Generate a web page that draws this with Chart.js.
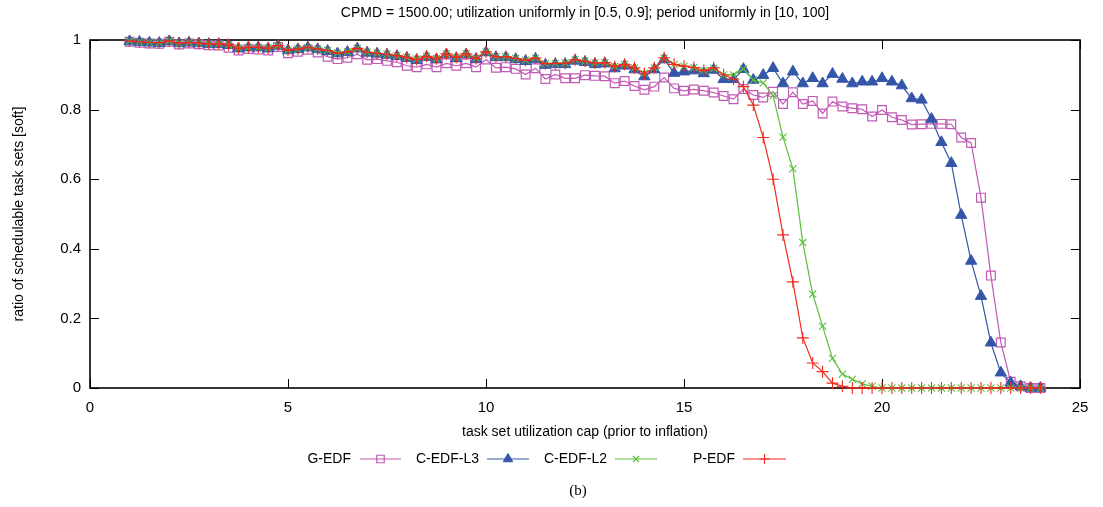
<!DOCTYPE html>
<html>
<head>
<meta charset="utf-8">
<title>CPMD = 1500.00</title>
<script src="https://cdn.jsdelivr.net/npm/chart.js@4.4.1/dist/chart.umd.min.js"></script>
<style>
	html, body { margin: 0; padding: 0; background: #fff; }
	#wrap { width: 1103px; height: 507px; position: relative; }
</style>
</head>
<body>
<div id="wrap"><canvas id="schedChart" width="1103" height="507"></canvas></div>
<script>
var titleText = 'CPMD = 1500.00; utilization uniformly in [0.5, 0.9]; period uniformly in [10, 100]';
var xTitle = 'task set utilization cap (prior to inflation)';
var yTitle = 'ratio of schedulable task sets [soft]';
var xTicks = [0, 5, 10, 15, 20, 25];
var yTicks = [0, 0.2, 0.4, 0.6, 0.8, 1];

// utilization caps 1 .. 24, step 0.25
var caps = [1, 1.25, 1.5, 1.75, 2, 2.25, 2.5, 2.75, 3, 3.25, 3.5, 3.75, 4, 4.25, 4.5, 4.75,
	5, 5.25, 5.5, 5.75, 6, 6.25, 6.5, 6.75, 7, 7.25, 7.5, 7.75, 8, 8.25, 8.5, 8.75,
	9, 9.25, 9.5, 9.75, 10, 10.25, 10.5, 10.75, 11, 11.25, 11.5, 11.75, 12, 12.25, 12.5, 12.75,
	13, 13.25, 13.5, 13.75, 14, 14.25, 14.5, 14.75, 15, 15.25, 15.5, 15.75, 16, 16.25, 16.5, 16.75,
	17, 17.25, 17.5, 17.75, 18, 18.25, 18.5, 18.75, 19, 19.25, 19.5, 19.75, 20, 20.25, 20.5, 20.75,
	21, 21.25, 21.5, 21.75, 22, 22.25, 22.5, 22.75, 23, 23.25, 23.5, 23.75, 24];

var gEdf = [0.995, 0.992, 0.990, 0.989, 0.995, 0.987, 0.990, 0.988, 0.985, 0.984, 0.978, 0.970, 0.974, 0.973, 0.970, 0.980,
	0.962, 0.966, 0.972, 0.964, 0.952, 0.945, 0.949, 0.959, 0.943, 0.945, 0.940, 0.936, 0.926, 0.922, 0.930, 0.922,
	0.933, 0.926, 0.933, 0.922, 0.944, 0.920, 0.922, 0.917, 0.901, 0.919, 0.888, 0.901, 0.890, 0.890, 0.899, 0.897,
	0.896, 0.876, 0.882, 0.868, 0.857, 0.866, 0.892, 0.861, 0.854, 0.858, 0.854, 0.849, 0.839, 0.830, 0.859, 0.842,
	0.835, 0.851, 0.816, 0.850, 0.816, 0.825, 0.789, 0.823, 0.809, 0.804, 0.801, 0.780, 0.799, 0.778, 0.770, 0.757,
	0.758, 0.759, 0.759, 0.758, 0.720, 0.704, 0.547, 0.323, 0.131, 0.018, 0.005, 0, 0];

var cEdfL3 = [0.996, 0.994, 0.992, 0.991, 0.996, 0.990, 0.992, 0.990, 0.988, 0.988, 0.985, 0.975, 0.978, 0.978, 0.975, 0.983,
	0.970, 0.973, 0.978, 0.973, 0.968, 0.961, 0.965, 0.975, 0.963, 0.960, 0.957, 0.953, 0.948, 0.942, 0.951, 0.944,
	0.958, 0.947, 0.958, 0.945, 0.964, 0.950, 0.950, 0.944, 0.939, 0.945, 0.928, 0.930, 0.930, 0.940, 0.936, 0.930,
	0.932, 0.918, 0.926, 0.915, 0.895, 0.915, 0.944, 0.905, 0.909, 0.912, 0.904, 0.914, 0.887, 0.887, 0.916, 0.885,
	0.899, 0.919, 0.875, 0.909, 0.875, 0.890, 0.875, 0.902, 0.888, 0.875, 0.880, 0.880, 0.890, 0.880, 0.869, 0.832,
	0.828, 0.773, 0.706, 0.646, 0.497, 0.365, 0.264, 0.130, 0.044, 0.015, 0.005, 0, 0];

var cEdfL2 = [0.997, 0.995, 0.993, 0.992, 0.997, 0.991, 0.993, 0.991, 0.989, 0.989, 0.986, 0.977, 0.979, 0.979, 0.977, 0.984,
	0.971, 0.974, 0.979, 0.974, 0.970, 0.963, 0.966, 0.976, 0.965, 0.962, 0.959, 0.955, 0.950, 0.945, 0.953, 0.946,
	0.960, 0.950, 0.960, 0.948, 0.966, 0.952, 0.952, 0.947, 0.942, 0.948, 0.932, 0.933, 0.934, 0.943, 0.939, 0.934,
	0.935, 0.924, 0.930, 0.920, 0.904, 0.920, 0.948, 0.930, 0.925, 0.921, 0.912, 0.918, 0.900, 0.900, 0.917, 0.885,
	0.877, 0.840, 0.721, 0.630, 0.418, 0.270, 0.178, 0.085, 0.040, 0.025, 0.012, 0.005, 0, 0, 0, 0,
	0, 0, 0, 0, 0, 0, 0, 0, 0, 0, 0, 0, 0];

var pEdf = [0.997, 0.995, 0.993, 0.992, 0.997, 0.991, 0.993, 0.991, 0.989, 0.989, 0.986, 0.976, 0.979, 0.979, 0.976, 0.984,
	0.971, 0.974, 0.979, 0.974, 0.970, 0.962, 0.966, 0.976, 0.965, 0.962, 0.959, 0.955, 0.950, 0.944, 0.953, 0.946,
	0.960, 0.950, 0.960, 0.947, 0.966, 0.952, 0.952, 0.947, 0.942, 0.948, 0.932, 0.933, 0.933, 0.943, 0.939, 0.934,
	0.935, 0.924, 0.930, 0.920, 0.903, 0.920, 0.949, 0.930, 0.925, 0.921, 0.912, 0.920, 0.900, 0.888, 0.866, 0.813,
	0.720, 0.600, 0.440, 0.305, 0.144, 0.072, 0.047, 0.014, 0.005, 0, 0, 0, 0, 0, 0, 0,
	0, 0, 0, 0, 0, 0, 0, 0, 0, 0, 0, 0, 0];

var seriesNames = ['G-EDF', 'C-EDF-L3', 'C-EDF-L2', 'P-EDF'];
var seriesColors = ['#c05ab4', '#3556a8', '#5cbf3c', '#f02a1e'];

var toPoints = function(vals){
	var out = [];
	for(var i = 0; i < caps.length; i++){
		out.push({x: caps[i], y: vals[i]});
	}
	return out;
};

var FONT = '"Liberation Sans", Arial, Helvetica, sans-serif';

// marker look per series (also used by the legend)
var marks = [
	{pointStyle: 'rect', radius: 6.2, fill: 'rgba(0,0,0,0)', borderWidth: 1.2},
	{pointStyle: 'triangle', radius: 6.5, fill: seriesColors[1], borderWidth: 1},
	{pointStyle: 'crossRot', radius: 5, fill: 'rgba(0,0,0,0)', borderWidth: 1.1},
	{pointStyle: 'cross', radius: 6, fill: 'rgba(0,0,0,0)', borderWidth: 1.1}
];

var legendPos = [
	{textRight: 351, x1: 360, x2: 401},
	{textRight: 479, x1: 487, x2: 529},
	{textRight: 607, x1: 615, x2: 657},
	{textRight: 735, x1: 743, x2: 786}
];

var gnuFrame = {
	id: 'gnuFrame',
	beforeDatasetsDraw: function(chart){
		var ctx = chart.ctx, a = chart.chartArea,
			xs = chart.scales.x, ys = chart.scales.y;
		ctx.save();
		ctx.strokeStyle = '#000';
		ctx.lineWidth = 1;
		// inward ticks on all four sides
		ctx.beginPath();
		xTicks.forEach(function(v){
			var px = Math.round(xs.getPixelForValue(v)) + 0.5;
			ctx.moveTo(px, a.bottom); ctx.lineTo(px, a.bottom - 9);
			ctx.moveTo(px, a.top); ctx.lineTo(px, a.top + 9);
		});
		yTicks.forEach(function(v){
			var py = Math.round(ys.getPixelForValue(v)) + 0.5;
			ctx.moveTo(a.left, py); ctx.lineTo(a.left + 9, py);
			ctx.moveTo(a.right, py); ctx.lineTo(a.right - 9, py);
		});
		ctx.stroke();
		ctx.lineWidth = 1.6;
		ctx.strokeRect(a.left, a.top, a.right - a.left, a.bottom - a.top);
		ctx.restore();
	},
	afterDraw: function(chart){
		var ctx = chart.ctx, a = chart.chartArea;
		var cx = (a.left + a.right) / 2;
		ctx.save();
		ctx.fillStyle = '#000';
		ctx.textAlign = 'center';
		ctx.textBaseline = 'middle';
		ctx.font = '14px ' + FONT;
		ctx.fillText(titleText, cx, 13);
		ctx.fillText(xTitle, cx, 432);
		ctx.save();
		ctx.translate(19, (a.top + a.bottom) / 2);
		ctx.rotate(-Math.PI / 2);
		ctx.fillText(yTitle, 0, 0);
		ctx.restore();
		ctx.font = '15px "Liberation Serif", "Times New Roman", serif';
		ctx.fillText('(b)', 578, 491);

		// gnuplot style key: name, then sample line with marker
		ctx.font = '14px ' + FONT;
		ctx.textAlign = 'right';
		for(var i = 0; i < seriesNames.length; i++){
			var p = legendPos[i], y = 459;
			ctx.fillStyle = '#000';
			ctx.fillText(seriesNames[i], p.textRight, y);
			ctx.strokeStyle = seriesColors[i];
			ctx.lineWidth = 1.2;
			ctx.beginPath();
			ctx.moveTo(p.x1, y); ctx.lineTo(p.x2, y);
			ctx.stroke();
			ctx.fillStyle = marks[i].fill;
			ctx.lineWidth = marks[i].borderWidth;
			Chart.helpers.drawPoint(ctx, {pointStyle: marks[i].pointStyle, radius: marks[i].radius * 0.85, rotation: 0, borderWidth: marks[i].borderWidth}, (p.x1 + p.x2) / 2, y);
		}
		ctx.restore();
	}
};

var makeSet = function(i, vals, order){
	return {
		label: seriesNames[i],
		data: toPoints(vals),
		borderColor: seriesColors[i],
		backgroundColor: seriesColors[i],
		borderWidth: 1.2,
		pointStyle: marks[i].pointStyle,
		pointRadius: marks[i].radius,
		pointBorderWidth: marks[i].borderWidth,
		pointBorderColor: seriesColors[i],
		pointBackgroundColor: marks[i].fill,
		tension: 0,
		clip: 10,
		order: order
	};
};

var ctx = document.getElementById('schedChart').getContext('2d');
var schedChart = new Chart(ctx, {
	type: 'line',
	data: {
		datasets: [
			makeSet(0, gEdf, 4),
			makeSet(1, cEdfL3, 3),
			makeSet(2, cEdfL2, 2),
			makeSet(3, pEdf, 1)
		]
	},
	options: {
		responsive: false,
		animation: false,
		events: [],
		layout: {padding: {left: 0, right: 23, top: 40, bottom: 0}},
		plugins: {
			legend: {display: false},
			tooltip: {enabled: false},
			title: {display: false}
		},
		scales: {
			x: {
				type: 'linear',
				min: 0,
				max: 25,
				afterFit: function(scale){ scale.height = 119; },
				afterBuildTicks: function(scale){
					scale.ticks = xTicks.map(function(v){ return {value: v}; });
				},
				grid: {display: false, drawTicks: false},
				border: {display: false},
				ticks: {color: '#000', padding: 11, maxRotation: 0, font: {family: FONT, size: 15}}
			},
			y: {
				type: 'linear',
				min: 0,
				max: 1,
				afterFit: function(scale){ scale.width = 90; },
				afterBuildTicks: function(scale){
					scale.ticks = yTicks.map(function(v){ return {value: v}; });
				},
				grid: {display: false, drawTicks: false},
				border: {display: false},
				ticks: {
					color: '#000',
					padding: 9,
					font: {family: FONT, size: 15},
					callback: function(v){ return (v === 0 || v === 1) ? String(v) : v.toFixed(1); }
				}
			}
		}
	},
	plugins: [gnuFrame]
});
</script>
</body>
</html>
